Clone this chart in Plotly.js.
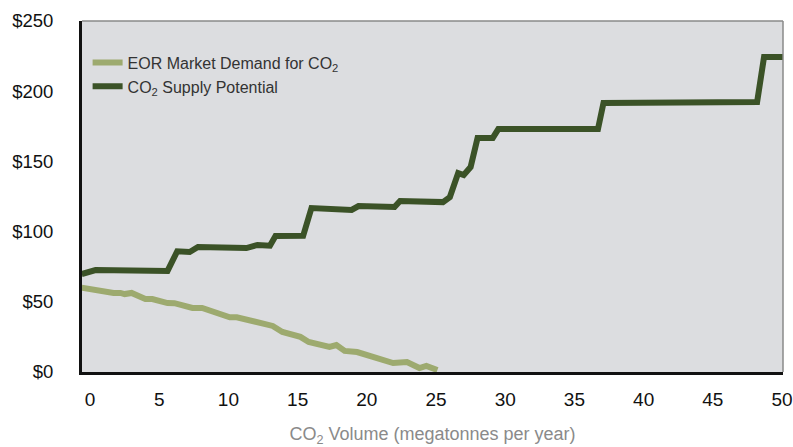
<!DOCTYPE html>
<html>
<head>
<meta charset="utf-8">
<script src="https://cdn.plot.ly/plotly-3.0.1.min.js"></script>
<style>html,body{margin:0;padding:0;background:#fff;}#chart{width:793px;height:447px;}</style>
</head>
<body>
<div id="chart"></div>
<script>
const demandName = "EOR Market Demand for CO<sub>2</sub>";
const supplyName = "CO<sub>2</sub> Supply Potential";

const demandX = [-0.6, 0.7, 1.7, 2.2, 2.5, 3.0, 4.0, 4.5, 5.6, 6.1, 7.4, 8.1, 10.1, 10.6, 12.3, 13.2, 13.9, 15.2, 15.8, 17.3, 17.8, 18.4, 19.3, 21.9, 22.9, 23.8, 24.3, 25.1];
const demandY = [60, 57.7, 56.3, 56.3, 55.5, 56.3, 52, 52, 49.1, 49, 45.6, 45.6, 39, 39, 35, 32.8, 28.5, 25, 21.4, 17.8, 19.2, 15, 14.2, 6.4, 7.1, 2.8, 4.3, 1.4];

const supplyX = [-0.6, 0.4, 5.6, 6.3, 7.2, 7.8, 11.3, 12.1, 13.0, 13.4, 15.4, 16.0, 18.9, 19.4, 22.0, 22.4, 25.5, 26.0, 26.6, 27.0, 27.5, 28.0, 29.1, 29.5, 36.7, 37.1, 48.2, 48.7, 50.1];
const supplyY = [69.8, 72.6, 72, 86, 85.5, 89, 88.3, 90.5, 90, 96.9, 97, 116.8, 115.4, 118.2, 117.5, 121.8, 121, 124.6, 141.7, 140.3, 146, 166.7, 166.7, 173, 173, 191.6, 192.3, 224.4, 224.4];

const xTicks = [0, 5, 10, 15, 20, 25, 30, 35, 40, 45, 50];
const yTicks = [0, 50, 100, 150, 200, 250];
const yTickText = ["$0", "$50", "$100", "$150", "$200", "$250"];

const traces = [
  {x: demandX, y: demandY, name: demandName, type: "scatter", mode: "lines",
   line: {color: "#9daa6f", width: 6}, legendgroup: "d"},
  {x: supplyX, y: supplyY, name: supplyName, type: "scatter", mode: "lines",
   line: {color: "#3b5227", width: 6}, legendgroup: "s"}
];

const layout = {
  width: 793, height: 447,
  margin: {l: 82, r: 10, t: 21, b: 75},
  paper_bgcolor: "#ffffff",
  plot_bgcolor: "#dcdde0",
  font: {family: "Liberation Sans, Arial, sans-serif", color: "#111", size: 18},
  showlegend: true,
  legend: {x: 0.008, y: 0.93, xanchor: "left", yanchor: "top", bgcolor: "rgba(0,0,0,0)",
           font: {size: 16, color: "#333"}, tracegroupgap: 10, traceorder: "normal", itemwidth: 30},
  xaxis: {range: [-0.58, 50.07], tickvals: xTicks, ticks: "", showgrid: false, zeroline: false,
          showline: true, linecolor: "#111", linewidth: 3, ticklabelstandoff: 8,
          tickfont: {size: 19, color: "#111"},
          title: {text: "CO<sub>2</sub> Volume (megatonnes per year)", font: {size: 18, color: "#8a8a8a"}, standoff: 21}},
  yaxis: {range: [0, 250], tickvals: yTicks, ticktext: yTickText, ticks: "", showgrid: false, zeroline: false,
          showline: true, linecolor: "#111", linewidth: 3, ticklabelstandoff: 22,
          tickfont: {size: 18.5, color: "#111"}},
  shapes: [
    {type: "line", xref: "paper", yref: "paper", x0: 0, x1: 1, y0: 1, y1: 1, line: {color: "#8a8a8a", width: 1.5}},
    {type: "line", xref: "paper", yref: "paper", x0: 1, x1: 1, y0: 0, y1: 1, line: {color: "#8a8a8a", width: 1.5}}
  ]
};

Plotly.newPlot("chart", traces, layout, {displayModeBar: false, staticPlot: true});
</script>
</body>
</html>
